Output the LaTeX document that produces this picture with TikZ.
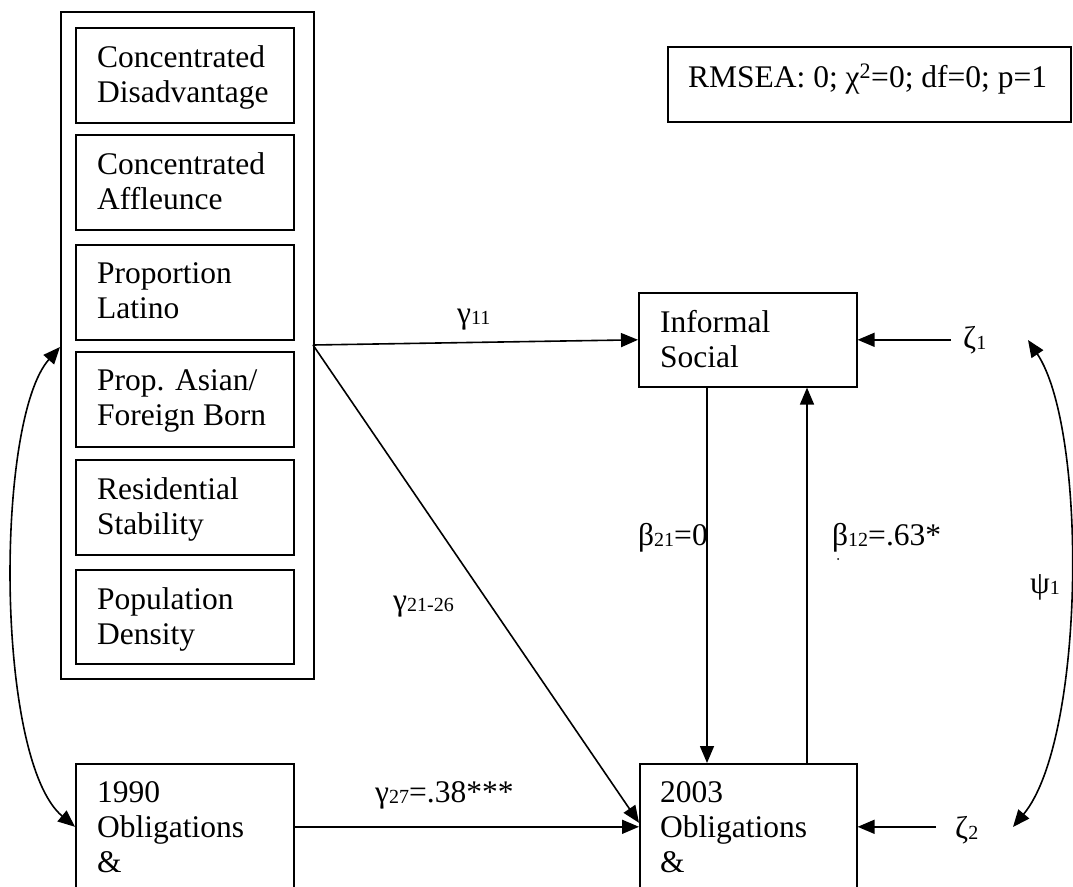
\documentclass[tikz,border=0pt]{standalone}
\usepackage{fontspec}
\setmainfont{Liberation Serif}
\usetikzlibrary{arrows.meta,calc}
\newcommand{\sbs}[1]{\raisebox{-1pt}{\fontsize{20}{20}\selectfont #1}}
\begin{document}
\begin{tikzpicture}[x=1pt,y=-1pt,
  box/.style={draw, line width=1.6pt, anchor=north west, inner sep=0pt},
  ibox/.style={box, minimum width=218pt, minimum height=95pt},
  txt/.style={anchor=north west, inner sep=0pt, align=left,
    font=\fontsize{31.5}{35}\selectfont, execute at begin node={\rule{0pt}{22pt}}},
  lab/.style={anchor=base west, inner sep=0pt, font=\fontsize{31.5}{35}\selectfont},
  arr/.style={-{Triangle[length=17pt,width=14pt]}, line width=1.6pt},
  darr/.style={{Triangle[length=17pt,width=14pt]}-{Triangle[length=17pt,width=14pt]}, line width=1.6pt}]
\useasboundingbox (0,0) rectangle (1073,886);
\fill[white] (0,0) rectangle (1073,886);
\clip (0,0) rectangle (1073,886);

% outer grouping box
\node[box, minimum width=253pt, minimum height=667pt] (outer) at (60,11) {};
% inner boxes
\node[ibox] (cd) at (75,27) {};
\node[ibox] (ca) at (75,134) {};
\node[ibox] (pl) at (75,244) {};
\node[ibox] (pa) at (75,351) {};
\node[ibox] (rs) at (75,459) {};
\node[ibox, minimum height=94pt] (pd) at (75,569) {};
\node[txt] (tcd) at ($(cd.north west)+(22,18)$) {Concentrated\\Disadvantage};
\node[txt] (tca) at ($(ca.north west)+(22,18)$) {Concentrated\\Affleunce};
\node[txt] (tpl) at ($(pl.north west)+(22,18)$) {Proportion\\Latino};
\node[txt] (tpa) at ($(pa.north west)+(22,18)$) {Prop. Asian/\\Foreign Born};
\node[txt] (trs) at ($(rs.north west)+(22,18)$) {Residential\\Stability};
\node[txt] (tpd) at ($(pd.north west)+(22,18)$) {Population\\Density};

% other boxes
\node[box, minimum width=218pt, minimum height=126pt] (ob90) at (75,763) {};
\node[txt] (t90) at ($(ob90.north west)+(22,18)$) {1990\\Obligations\\\&};
\node[box, minimum width=218pt, minimum height=94pt] (ins) at (638,292) {};
\node[txt] (tins) at ($(ins.north west)+(22,18)$) {Informal\\Social};
\node[box, minimum width=217pt, minimum height=126pt] (ob03) at (639,763) {};
\node[txt] (t03) at ($(ob03.north west)+(21,18)$) {2003\\Obligations\\\&};
\node[box, minimum width=403pt, minimum height=75pt] (fit) at (667,46) {};
\node[txt] (tfit) at ($(fit.north west)+(21,18)$) {RMSEA: 0; χ\textsuperscript{2}=0; df=0; p=1};

% error terms
\node[lab] (z1) at (963,348) {ζ\sbs{1}};
\node[lab] (z2) at (955,838) {ζ\sbs{2}};
\node[lab] (psi) at (1030,593) {ψ\sbs{1}};

% connectors
\coordinate (gs) at (313,345);
\draw[arr] (gs) -- (ins.west);
\draw[arr] (gs) -- ($(ob03.west)+(0,-4)$);
\draw[arr] (ob90.east) -- (ob03.west);
\draw[arr] ($(ins.south west)+(69,0)$) -- ($(ob03.north west)+(68,0)$);
\draw[arr] ($(ob03.north west)+(168,0)$) -- ($(ins.south west)+(169,0)$);
\draw[arr] ($(z1.west|-ins.east)+(-12,0)$) -- (ins.east);
\draw[arr] ($(z2.west|-ob03.east)+(-19,0)$) -- (ob03.east);

% covariances
\coordinate (p1) at (1028,340);
\coordinate (p2) at (1013,827);
\draw[darr] (p1) .. controls (1088,430) and (1085,740) .. (p2);
\coordinate (o1) at (60,347);
\draw[darr] (outer.west|-o1) .. controls (-5,420) and (-5,760) .. (ob90.west);

% path labels
\node[lab] (l11) at (457,323) {γ\sbs{11}};
\node[lab] (l21) at (393,610) {γ\sbs{21-26}};
\node[lab] (l27) at (375,802) {γ\sbs{27}=.38***};
\node[lab] (lb21) at (638,545) {β\sbs{21}=0};
\node[lab] (lb12) at (832,545) {β\sbs{12}=.63*};
\fill (838,559) circle (1pt);
\end{tikzpicture}
\end{document}
